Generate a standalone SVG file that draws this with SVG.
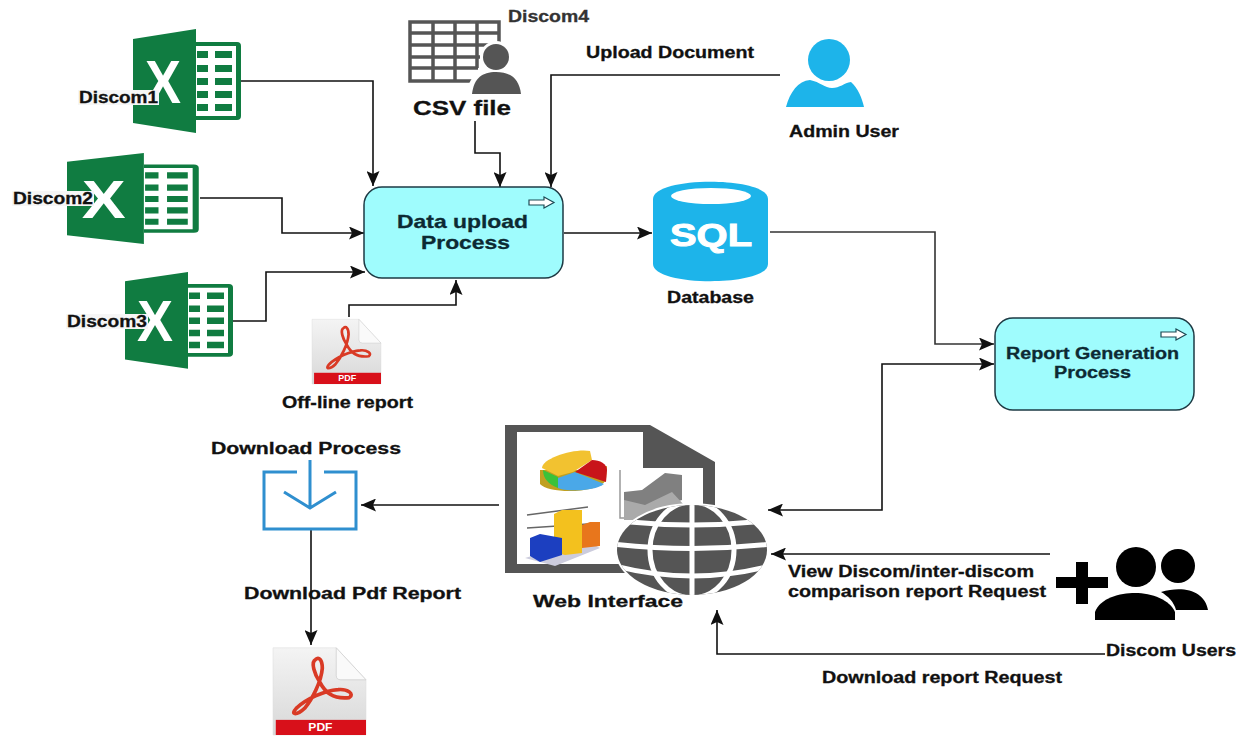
<svg xmlns="http://www.w3.org/2000/svg" width="1237" height="737" viewBox="0 0 1237 737">
<style>
text{font-family:"Liberation Sans",Arial,sans-serif;font-weight:bold;font-size:16px;fill:#111;stroke:#111;stroke-width:.3}
.c{fill:none;stroke:#111;stroke-width:1.6}
.box{fill:#9ffcfd;stroke:#1d3a44;stroke-width:1.5}
.big{font-size:19px;fill:#0c2a33;stroke:#0c2a33}
.g{fill:#107c41}
.d{fill:#555}
.blue{fill:#1db4ea}
.wl{fill:none;stroke:#fff;stroke-width:5}
.dl{fill:none;stroke:#2f8fcf;stroke-width:3}
.ar{fill:#fff;stroke:#1d4a55;stroke-width:1.2}
.bg{fill:#f6f6f6}
</style>
<defs>
<marker id="a" viewBox="0 0 15 13" refX="15" refY="6.5" markerWidth="15" markerHeight="13" markerUnits="userSpaceOnUse" orient="auto-start-reverse"><path d="M0,0 L15,6.5 L0,13 L3,6.5Z" fill="#111"/></marker>
<linearGradient id="pg" x1="0" y1="0" x2="0" y2="1"><stop offset="0" stop-color="#f4f4f4"/><stop offset="1" stop-color="#d8d8d8"/></linearGradient>
<g id="xl">
<path class="g" d="M0,10 L63,0 V104 L0,94Z"/>
<path class="g" d="M63,13 H104 Q108,13 108,17 V87 Q108,91 104,91 H63 V87 H103 V17 H63Z"/>
<path class="g" d="M64,22h11v7h-11zM82,22h17v7h-17zM64,36h11v7h-11zM82,36h17v7h-17zM64,49h11v7h-11zM82,49h17v7h-17zM64,62h11v7h-11zM82,62h17v7h-17zM64,75h11v7h-11zM82,75h17v7h-17z"/>
<text x="12" y="74" textLength="36" lengthAdjust="spacingAndGlyphs" style="font-size:61px;fill:#fff;stroke:none">X</text>
</g>
<g id="pdf">
<path d="M0,2 H68 L100,38 V100 H0Z" fill="url(#pg)" stroke="#ddd" stroke-width=".6"/>
<path d="M68,2 V33 Q68,38 73,38 H100Z" fill="#fafafa" stroke="#ccc" stroke-width=".8"/>
<rect x="3" y="83" width="97" height="17" fill="#d8101a"/>
<path d="M46,15 C40,18 45,32 50,40 C56,52 64,60 82,58 C88,54 80,48 70,49 C55,50 35,60 25,70 C18,78 26,78 34,70 C42,60 52,40 53,25 C53,15 49,12 46,15Z" fill="none" stroke="#d93a25" stroke-width="4"/>
<text x="51" y="96" text-anchor="middle" style="font-size:13px;fill:#fff;stroke:none">PDF</text>
</g>
<path id="sa" class="ar" d="M0,3 H15 V0 L25,5.5 L15,11 V8 H0Z"/>
<clipPath id="gc"><ellipse cx="692" cy="550" rx="75" ry="45"/></clipPath>
</defs>

<g id="connectors">
<path class="c" marker-end="url(#a)" d="M241,81 H373 V186"/>
<path class="c" marker-end="url(#a)" d="M200,198 H282 V233 H364"/>
<path class="c" marker-end="url(#a)" d="M232,321 H266 V272 H365"/>
<path class="c" marker-end="url(#a)" d="M475,121 V153 H500 V187"/>
<path class="c" marker-end="url(#a)" d="M780,75 H551 V187"/>
<path class="c" marker-end="url(#a)" d="M349,317 V305 H456 V280"/>
<path class="c" marker-end="url(#a)" d="M564,233 H652"/>
<path class="c" marker-end="url(#a)" style="stroke:#333" d="M770,232 H935 V344 H994"/>
<path class="c" marker-start="url(#a)" marker-end="url(#a)" d="M994,364 H882 V510 H768"/>
<path class="c" marker-end="url(#a)" d="M499,505 H361"/>
<path class="c" marker-end="url(#a)" d="M311,529 V645"/>
<path class="c" marker-end="url(#a)" d="M1050,554 H771"/>
<path class="c" marker-end="url(#a)" d="M1105,654 H717 V610"/>
</g>

<g id="discom1"><use href="#xl" transform="translate(133,29)"/><rect class="bg" x="78" y="90" width="81" height="15"/><text x="79" y="103" textLength="79" lengthAdjust="spacingAndGlyphs">Discom1</text></g>
<g id="discom2"><use href="#xl" transform="translate(67,153) scale(1.22,.875)"/><rect class="bg" x="12" y="191" width="82" height="15"/><text x="13" y="204" textLength="80" lengthAdjust="spacingAndGlyphs">Discom2</text></g>
<g id="discom3"><use href="#xl" transform="translate(125,272) scale(1,.93)"/><rect class="bg" x="66" y="314" width="82" height="15"/><text x="67" y="327" textLength="80" lengthAdjust="spacingAndGlyphs">Discom3</text></g>

<g id="discom4">
<path fill="none" stroke="#555" stroke-width="3.5" d="M499,60 V22 H410 V81 H480 M410,33 H499 M410,45 H490 M410,57 H480 M410,68 H478 M433,22 V81 M455,22 V81 M477,22 V68"/>
<circle cx="496" cy="57" r="16" fill="#fff"/>
<path d="M466,98 C468,74 480,68 496,68 C512,68 524,74 526,98Z" fill="#fff"/>
<circle cx="496" cy="57" r="13" class="d"/>
<path class="d" d="M472,94 C474,78 482,72 496,72 C510,72 519,78 521,94Z"/>
<text x="508" y="22" textLength="81" lengthAdjust="spacingAndGlyphs" style="fill:#333;stroke:#333">Discom4</text>
<text x="413" y="115" textLength="98" lengthAdjust="spacingAndGlyphs" style="font-size:21px">CSV file</text>
</g>

<g id="admin">
<circle cx="829" cy="60" r="21" class="blue"/>
<path class="blue" d="M786,107 C790,92 798,81 810,80 C820,82 825,88 832,88 C840,88 844,83 851,82 C858,88 862,98 864,107Z"/>
<text x="586" y="58" textLength="168" lengthAdjust="spacingAndGlyphs">Upload Document</text>
<text x="789" y="137" textLength="110" lengthAdjust="spacingAndGlyphs">Admin User</text>
</g>

<g id="data-upload">
<rect class="box" x="364" y="187" width="199" height="91" rx="18"/>
<use href="#sa" transform="translate(529,197)"/>
<text class="big" x="397" y="228" textLength="131" lengthAdjust="spacingAndGlyphs">Data upload</text>
<text class="big" x="421" y="249" textLength="89" lengthAdjust="spacingAndGlyphs">Process</text>
</g>

<g id="database">
<path class="blue" d="M653,199 C653,176 768,176 768,199 V264 C768,287 653,287 653,264Z"/>
<ellipse cx="711" cy="196" rx="40" ry="8" fill="#fff"/>
<text x="670" y="246" textLength="82" lengthAdjust="spacingAndGlyphs" style="font-size:32px;fill:#fff;stroke:#fff;stroke-width:1">SQL</text>
<text x="667" y="303" textLength="87" lengthAdjust="spacingAndGlyphs">Database</text>
</g>

<g id="report-generation">
<rect class="box" x="995" y="318" width="199" height="92" rx="18"/>
<use href="#sa" transform="translate(1161,329)"/>
<text x="1006" y="359" textLength="173" lengthAdjust="spacingAndGlyphs" style="fill:#0c2a33;stroke:#0c2a33">Report Generation</text>
<text x="1054" y="378" textLength="77" lengthAdjust="spacingAndGlyphs" style="fill:#0c2a33;stroke:#0c2a33">Process</text>
</g>

<g id="offline-report">
<use href="#pdf" transform="translate(312,318) scale(.69,.66)"/>
<text x="282" y="408" textLength="131" lengthAdjust="spacingAndGlyphs">Off-line report</text>
</g>

<g id="web-interface">
<path class="d" fill-rule="evenodd" d="M505,425 H650 L715,462 V560 H640 V573 H505Z M517,432 V564 H640 V500 H703 V468 H643 V432Z"/>
<path d="M640,500 H703 V530 H640Z" fill="#fff"/>
<path d="M540,470 V484 C548,494 598,494 606,480 L607,466 L590,470Z" fill="#c0a020"/>
<path d="M558,478 L575,472 L604,484 C596,491 566,492 558,488Z" fill="#4aa8e8"/>
<path d="M542,468 C542,458 575,448 590,451 L592,460 L573,472 L558,476Z" fill="#f2c230"/>
<path d="M575,472 L592,460 C600,460 607,464 607,470 L606,482Z" fill="#c8141a"/>
<path d="M543,470 L558,477 L558,488 C548,484 543,478 543,470Z" fill="#3ac23a"/>
<path d="M527,515 L588,507 M527,528 L588,524" stroke="#666" stroke-width="1.5" fill="none"/>
<path d="M525,558 L555,566 L600,548 L585,540Z" fill="#ccd"/>
<path d="M554,514 L562,510 H582 V553 L565,555 L554,552Z" fill="#f3c11e"/>
<path d="M582,525 L590,522 H600 V546 L582,548Z" fill="#e8761c"/>
<path d="M530,538 L540,534 L562,538 V555 L540,562 L530,556Z" fill="#1c3fc0"/>
<path d="M620,470 V518 H670" stroke="#999" stroke-width="1.5" fill="none"/>
<path d="M624,492 L642,490 L665,473 L682,475 V500 L650,510 L624,515Z" fill="#808080"/>
<path d="M624,500 L645,505 L672,492 L684,505 L660,520 H624Z" fill="#aaa"/>
<ellipse cx="692" cy="550" rx="77" ry="47" fill="#fff"/>
<ellipse cx="692" cy="550" rx="75" ry="45" class="d"/>
<g clip-path="url(#gc)">
<path class="wl" d="M692,500 V600"/>
<ellipse class="wl" cx="692" cy="550" rx="42" ry="48"/>
<path class="wl" d="M630,522 Q692,528 754,522"/>
<path class="wl" d="M612,544 Q692,553 772,544"/>
<path class="wl" d="M615,566 Q692,586 770,566"/>
</g>
<text x="533" y="607" textLength="150" lengthAdjust="spacingAndGlyphs" style="font-size:17px">Web Interface</text>
</g>

<g id="download-process">
<path class="dl" d="M297,472 H264 V529 H356 V472 H324"/>
<path class="dl" d="M310,460 V508 M284,492 L310,508 L336,492"/>
<text x="211" y="454" textLength="190" lengthAdjust="spacingAndGlyphs">Download Process</text>
<text x="244" y="599" textLength="217" lengthAdjust="spacingAndGlyphs">Download Pdf Report</text>
</g>

<g id="pdf-report"><use href="#pdf" transform="translate(273,646) scale(.93,.89)"/></g>

<g id="discom-users">
<path d="M1076,562 H1088 V577 H1108 V588 H1088 V604 H1076 V588 H1056 V577 H1076Z" fill="#000"/>
<circle cx="1136" cy="567" r="20" fill="#000"/>
<circle cx="1178" cy="566" r="17" fill="#000"/>
<path d="M1161,592 C1185,585 1205,592 1208,610 H1176 C1174,602 1168,596 1161,592Z" fill="#000"/>
<path d="M1095,620 V612 C1100,598 1120,593 1135,593 C1152,593 1170,600 1175,612 V620Z" fill="#000"/>
<text x="1106" y="656" textLength="130" lengthAdjust="spacingAndGlyphs">Discom Users</text>
</g>

<g id="edge-labels">
<text x="788" y="577" textLength="246" lengthAdjust="spacingAndGlyphs">View Discom/inter-discom</text>
<text x="788" y="597" textLength="258" lengthAdjust="spacingAndGlyphs">comparison report Request</text>
<text x="822" y="683" textLength="240" lengthAdjust="spacingAndGlyphs">Download report Request</text>
</g>
</svg>
